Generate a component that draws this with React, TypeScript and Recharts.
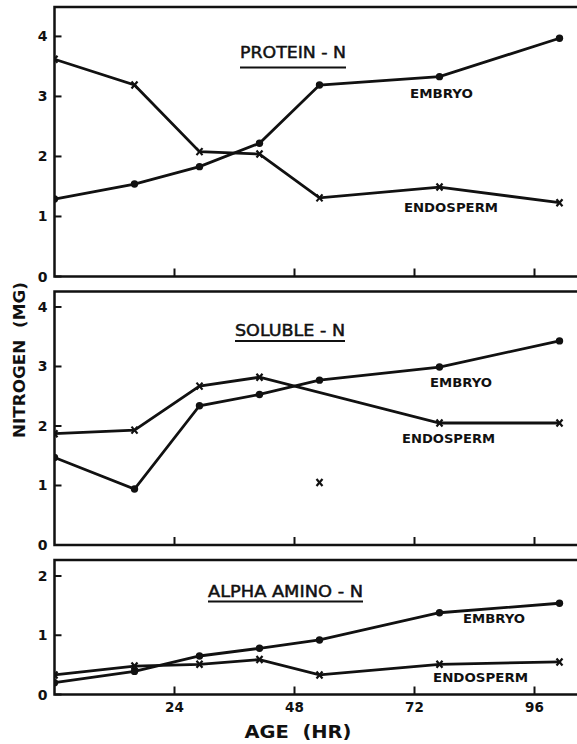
import React from "react";
import { Line, LineChart, ReferenceArea, XAxis, YAxis } from "recharts";

const HOURS = [0, 16, 29, 41, 53, 77, 101];
const X_TICKS = [24, 48, 72, 96];

const PROTEIN_EMBRYO = [1.29, 1.54, 1.83, 2.22, 3.19, 3.33, 3.97];
const PROTEIN_ENDOSPERM = [3.62, 3.19, 2.08, 2.04, 1.31, 1.49, 1.23];

const SOLUBLE_EMBRYO = [1.47, 0.94, 2.34, 2.53, 2.77, 2.99, 3.43];
// the 53 hr endosperm value is plotted but not joined to the line
const SOLUBLE_ENDOSPERM = [1.87, 1.93, 2.67, 2.82, null, 2.05, 2.05];
const SOLUBLE_ENDOSPERM_STRAY = [null, null, null, null, 1.05, null, null];

const ALPHA_EMBRYO = [0.2, 0.39, 0.65, 0.78, 0.92, 1.38, 1.54];
const ALPHA_ENDOSPERM = [0.33, 0.48, 0.51, 0.59, 0.33, 0.51, 0.55];

const INK = "#111";
const W = 577;
const H = 744;
const CHART_W = 600;
const PLOT_LEFT = 54.5;
const PLOT_RIGHT = 590;
const X_MAX = (PLOT_RIGHT - PLOT_LEFT) / 5.0;

type Panel = {
  title: string;
  top: number;
  bottom: number;
  yMax: number;
  yTicks: number[];
  embryo: (number | null)[];
  endosperm: (number | null)[];
  stray?: (number | null)[];
  showXLabels?: boolean;
};

const PANELS: Panel[] = [
  {
    title: "PROTEIN - N",
    top: 7,
    bottom: 276.5,
    yMax: 4.49,
    yTicks: [0, 1, 2, 3, 4],
    embryo: PROTEIN_EMBRYO,
    endosperm: PROTEIN_ENDOSPERM,
  },
  {
    title: "SOLUBLE - N",
    top: 291.5,
    bottom: 545,
    yMax: 4.26,
    yTicks: [0, 1, 2, 3, 4],
    embryo: SOLUBLE_EMBRYO,
    endosperm: SOLUBLE_ENDOSPERM,
    stray: SOLUBLE_ENDOSPERM_STRAY,
  },
  {
    title: "ALPHA AMINO - N",
    top: 560,
    bottom: 694.5,
    yMax: 2.27,
    yTicks: [0, 1, 2],
    embryo: ALPHA_EMBRYO,
    endosperm: ALPHA_ENDOSPERM,
    showXLabels: true,
  },
];

const FONT = "'DejaVu Sans', sans-serif";

const CircleDot = (props: any) => {
  const { cx, cy, index } = props;
  if (cx == null || cy == null || props.value == null) return <g key={`c${index}`} />;
  return <circle key={`c${index}`} cx={cx} cy={cy} r={3.7} fill={INK} />;
};

const CrossDot = (props: any) => {
  const { cx, cy, index } = props;
  if (cx == null || cy == null || props.value == null) return <g key={`x${index}`} />;
  return (
    <g key={`x${index}`} stroke={INK} strokeWidth={2.2}>
      <line x1={cx - 3} y1={cy - 3.5} x2={cx + 3} y2={cy + 3.5} />
      <line x1={cx + 3} y1={cy - 3.5} x2={cx - 3} y2={cy + 3.5} />
    </g>
  );
};

const YTick = ({ x, y, payload }: any) => (
  <g>
    <line x1={x} x2={x + 7} y1={y} y2={y} stroke={INK} strokeWidth={2} />
    <text
      x={x - 7}
      y={y + 5}
      textAnchor="end"
      fontFamily={FONT}
      fontWeight="bold"
      fontSize={14}
      fill={INK}
    >
      {payload.value}
    </text>
  </g>
);

const makeXTick = (showLabel: boolean) => ({ x, y, payload }: any) => (
  <g>
    <line x1={x} x2={x} y1={y} y2={y - 8} stroke={INK} strokeWidth={2} />
    {showLabel ? (
      <text
        x={x}
        y={y + 17}
        textAnchor="middle"
        fontFamily={FONT}
        fontWeight="bold"
        fontSize={13.5}
        fill={INK}
      >
        {payload.value}
      </text>
    ) : null}
  </g>
);

function PanelChart({ p }: { p: Panel }) {
  const data = HOURS.map((h, i) => ({
    hr: h,
    embryo: p.embryo[i],
    endosperm: p.endosperm[i],
    stray: p.stray ? p.stray[i] : null,
  }));
  return (
    <div style={{ position: "absolute", left: 0, top: 0 }}>
      <LineChart
        width={CHART_W}
        height={H}
        data={data}
        margin={{
          top: p.top,
          bottom: H - p.bottom - 1,
          left: PLOT_LEFT - 1,
          right: CHART_W - PLOT_RIGHT,
        }}
      >
        <XAxis
          dataKey="hr"
          type="number"
          domain={[0, X_MAX]}
          ticks={X_TICKS}
          height={1}
          tickSize={0}
          tickMargin={0}
          axisLine={false}
          tick={makeXTick(!!p.showXLabels)}
          interval={0}
          allowDataOverflow
        />
        <YAxis
          type="number"
          domain={[0, p.yMax]}
          ticks={p.yTicks}
          width={1}
          tickSize={0}
          tickMargin={0}
          axisLine={false}
          tick={YTick}
          interval={0}
          allowDataOverflow
        />
        <ReferenceArea
          x1={0}
          x2={X_MAX}
          y1={0}
          y2={p.yMax}
          fill="none"
          stroke={INK}
          strokeWidth={2.5}
          ifOverflow="visible"
        />
        <Line
          dataKey="embryo"
          type="linear"
          stroke={INK}
          strokeWidth={2.8}
          dot={CircleDot}
          isAnimationActive={false}
        />
        <Line
          dataKey="endosperm"
          type="linear"
          stroke={INK}
          strokeWidth={2.8}
          dot={CrossDot}
          connectNulls
          isAnimationActive={false}
        />
        {p.stray ? (
          <Line
            dataKey="stray"
            type="linear"
            stroke="none"
            dot={CrossDot}
            isAnimationActive={false}
          />
        ) : null}
      </LineChart>
    </div>
  );
}

const TITLES = [
  { text: "PROTEIN - N", x: 240, y: 58, w: 106, uy: 67.5 },
  { text: "SOLUBLE - N", x: 235, y: 336, w: 110, uy: 341 },
  { text: "ALPHA AMINO - N", x: 208, y: 596.5, w: 155, uy: 601.5 },
];

const CURVE_LABELS = [
  { text: "EMBRYO", x: 410, y: 98, w: 63 },
  { text: "ENDOSPERM", x: 404, y: 212, w: 94 },
  { text: "EMBRYO", x: 430, y: 387, w: 62 },
  { text: "ENDOSPERM", x: 402, y: 443, w: 93 },
  { text: "EMBRYO", x: 463, y: 623, w: 62 },
  { text: "ENDOSPERM", x: 433, y: 682, w: 95 },
];

export default function App() {
  return (
    <div
      style={{
        position: "absolute",
        left: 0,
        top: 0,
        width: W,
        height: H,
        overflow: "hidden",
        background: "#fff",
      }}
    >
      {PANELS.map((p) => (
        <PanelChart key={p.title} p={p} />
      ))}
      <svg
        width={W}
        height={H}
        style={{ position: "absolute", left: 0, top: 0, pointerEvents: "none" }}
      >
        {TITLES.map((t) => (
          <g key={t.text}>
            <text
              x={t.x}
              y={t.y}
              fontFamily={FONT}
              fontSize={16}
              fill={INK}
              stroke={INK}
              strokeWidth={0.5}
              textLength={t.w}
              lengthAdjust="spacingAndGlyphs"
            >
              {t.text}
            </text>
            <line x1={t.x} x2={t.x + t.w} y1={t.uy} y2={t.uy} stroke={INK} strokeWidth={2} />
          </g>
        ))}
        {CURVE_LABELS.map((l, i) => (
          <text
            key={i}
            x={l.x}
            y={l.y}
            fontFamily={FONT}
            fontWeight="bold"
            fontSize={12.5}
            fill={INK}
            textLength={l.w}
            lengthAdjust="spacingAndGlyphs"
          >
            {l.text}
          </text>
        ))}
        <text
          transform="translate(25 360) rotate(-90)"
          textAnchor="middle"
          fontFamily={FONT}
          fontWeight="bold"
          fontSize={15}
          fill={INK}
          textLength={156}
          lengthAdjust="spacingAndGlyphs"
          style={{ whiteSpace: "pre" }}
        >
          {"NITROGEN  (MG)"}
        </text>
        <text
          x={298}
          y={738}
          textAnchor="middle"
          fontFamily={FONT}
          fontWeight="bold"
          fontSize={18}
          fill={INK}
          textLength={107}
          lengthAdjust="spacingAndGlyphs"
          style={{ whiteSpace: "pre" }}
        >
          {"AGE  (HR)"}
        </text>
      </svg>
    </div>
  );
}
